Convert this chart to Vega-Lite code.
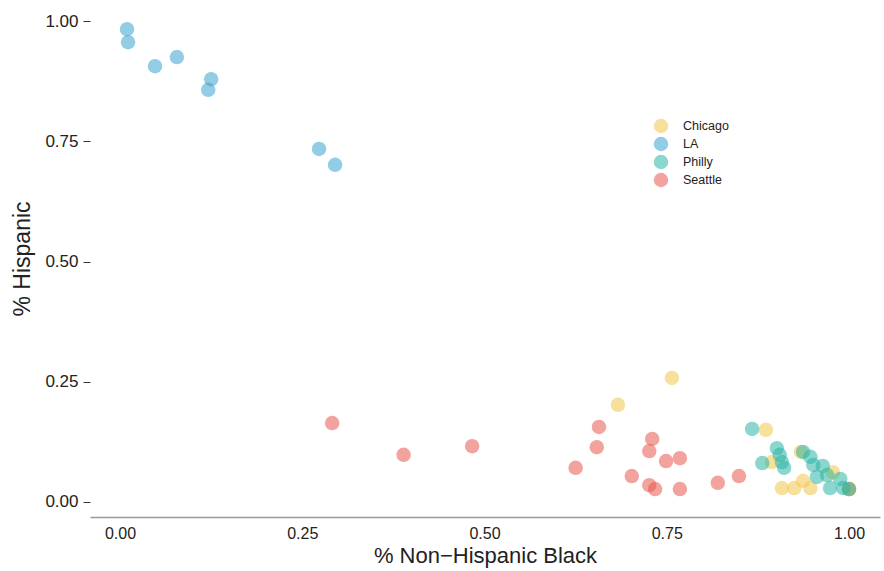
{
  "$schema": "https://vega.github.io/schema/vega-lite/v6.json",
  "autosize": {"type": "none"},
  "padding": {"left": 90, "top": 0, "right": 4, "bottom": 54},
  "width": 790,
  "height": 517,
  "background": "white",
  "config": {"view": {"stroke": null}, "font": "Liberation Sans"},
  "data": {"values": [
    {"city": "LA", "black": 0.0096, "hispanic": 0.983},
    {"city": "LA", "black": 0.011, "hispanic": 0.956},
    {"city": "LA", "black": 0.048, "hispanic": 0.906},
    {"city": "LA", "black": 0.078, "hispanic": 0.925},
    {"city": "LA", "black": 0.125, "hispanic": 0.879},
    {"city": "LA", "black": 0.121, "hispanic": 0.857},
    {"city": "LA", "black": 0.273, "hispanic": 0.734},
    {"city": "LA", "black": 0.295, "hispanic": 0.701},
    {"city": "Seattle", "black": 0.291, "hispanic": 0.164},
    {"city": "Seattle", "black": 0.389, "hispanic": 0.098},
    {"city": "Seattle", "black": 0.483, "hispanic": 0.116},
    {"city": "Seattle", "black": 0.657, "hispanic": 0.156},
    {"city": "Seattle", "black": 0.654, "hispanic": 0.114},
    {"city": "Seattle", "black": 0.625, "hispanic": 0.071},
    {"city": "Seattle", "black": 0.730, "hispanic": 0.131},
    {"city": "Seattle", "black": 0.726, "hispanic": 0.106},
    {"city": "Seattle", "black": 0.749, "hispanic": 0.085},
    {"city": "Seattle", "black": 0.768, "hispanic": 0.091},
    {"city": "Seattle", "black": 0.702, "hispanic": 0.054},
    {"city": "Seattle", "black": 0.726, "hispanic": 0.035},
    {"city": "Seattle", "black": 0.734, "hispanic": 0.027},
    {"city": "Seattle", "black": 0.768, "hispanic": 0.027},
    {"city": "Seattle", "black": 0.820, "hispanic": 0.040},
    {"city": "Seattle", "black": 0.849, "hispanic": 0.054},
    {"city": "Seattle", "black": 1.0, "hispanic": 0.027},
    {"city": "Chicago", "black": 0.757, "hispanic": 0.258},
    {"city": "Chicago", "black": 0.683, "hispanic": 0.202},
    {"city": "Chicago", "black": 0.886, "hispanic": 0.150},
    {"city": "Chicago", "black": 0.894, "hispanic": 0.083},
    {"city": "Chicago", "black": 0.934, "hispanic": 0.104},
    {"city": "Chicago", "black": 0.937, "hispanic": 0.044},
    {"city": "Chicago", "black": 0.908, "hispanic": 0.029},
    {"city": "Chicago", "black": 0.925, "hispanic": 0.029},
    {"city": "Chicago", "black": 0.947, "hispanic": 0.029},
    {"city": "Chicago", "black": 0.978, "hispanic": 0.062},
    {"city": "Chicago", "black": 1.0, "hispanic": 0.027},
    {"city": "Philly", "black": 0.867, "hispanic": 0.152},
    {"city": "Philly", "black": 0.901, "hispanic": 0.112},
    {"city": "Philly", "black": 0.905, "hispanic": 0.098},
    {"city": "Philly", "black": 0.908, "hispanic": 0.083},
    {"city": "Philly", "black": 0.911, "hispanic": 0.071},
    {"city": "Philly", "black": 0.881, "hispanic": 0.081},
    {"city": "Philly", "black": 0.937, "hispanic": 0.104},
    {"city": "Philly", "black": 0.947, "hispanic": 0.094},
    {"city": "Philly", "black": 0.951, "hispanic": 0.077},
    {"city": "Philly", "black": 0.964, "hispanic": 0.075},
    {"city": "Philly", "black": 0.970, "hispanic": 0.056},
    {"city": "Philly", "black": 0.956, "hispanic": 0.052},
    {"city": "Philly", "black": 0.988, "hispanic": 0.048},
    {"city": "Philly", "black": 0.974, "hispanic": 0.029},
    {"city": "Philly", "black": 0.992, "hispanic": 0.029},
    {"city": "Philly", "black": 1.0, "hispanic": 0.027}
  ]},
  "mark": {"type": "circle", "size": 210, "opacity": 0.55},
  "encoding": {
    "x": {
      "field": "black", "type": "quantitative",
      "title": "% Non−Hispanic Black",
      "scale": {"domain": [-0.0412, 1.0425], "nice": false, "zero": false},
      "axis": {
        "values": [0, 0.25, 0.5, 0.75, 1], "format": ".2f",
        "grid": false, "ticks": false,
        "domainColor": "#999999", "domainWidth": 1.5,
        "labelFontSize": 16, "labelColor": "#222222", "labelPadding": 8,
        "titleFontSize": 22, "titleFontWeight": "normal", "titleColor": "#222222", "titlePadding": 4
      }
    },
    "y": {
      "field": "hispanic", "type": "quantitative",
      "title": "% Hispanic",
      "scale": {"domain": [-0.0312, 1.0437], "nice": false, "zero": false},
      "axis": {
        "values": [0, 0.25, 0.5, 0.75, 1], "format": ".2f",
        "grid": false, "domain": false,
        "ticks": true, "tickSize": 7, "tickColor": "#333333",
        "labelFontSize": 17, "labelColor": "#222222", "labelPadding": 5,
        "titleFontSize": 23, "titleFontWeight": "normal", "titleColor": "#222222", "titlePadding": 10
      }
    },
    "color": {
      "field": "city", "type": "nominal",
      "scale": {
        "domain": ["Chicago", "LA", "Philly", "Seattle"],
        "range": ["#F0C64A", "#3BA3D0", "#2BB5A5", "#E8574E"]
      },
      "legend": {
        "title": null, "orient": "none", "legendX": 563, "legendY": 118,
        "symbolType": "circle", "symbolSize": 210, "symbolOpacity": 0.55,
        "labelFontSize": 12.5, "labelColor": "#222222", "rowPadding": 2, "labelOffset": 14
      }
    }
  }
}
